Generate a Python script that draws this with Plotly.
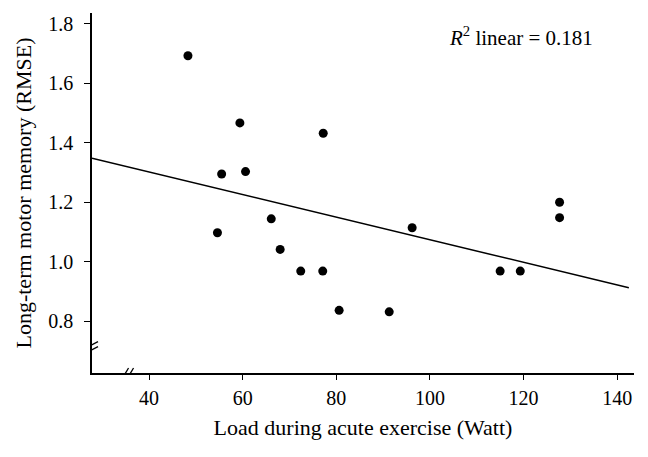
import plotly.graph_objects as go

load_watt = [48.3, 59.4, 55.5, 60.6, 66.1, 77.2, 54.6, 68.0, 72.4, 77.1,
             80.6, 91.3, 96.2, 115.0, 119.3, 127.7, 127.7]
rmse = [1.693, 1.467, 1.295, 1.303, 1.144, 1.432, 1.097, 1.041, 0.968, 0.968,
        0.836, 0.831, 1.114, 0.968, 0.968, 1.200, 1.148]

fit_x = [27.8, 142.5]
fit_y = [1.348, 0.912]

x_ticks = [40, 60, 80, 100, 120, 140]
y_ticks = [0.8, 1.0, 1.2, 1.4, 1.6, 1.8]
y_tick_text = ["0.8", "1.0", "1.2", "1.4", "1.6", "1.8"]

FONT = "Liberation Serif"

# page body has an 8px margin, so the figure is drawn 8px smaller
W, H = 640, 449
ML, MR, MT, MB = 84, 14, 5, 84

fig = go.Figure()
fig.add_trace(go.Scatter(x=fit_x, y=fit_y, mode="lines",
                         line=dict(color="black", width=1.5), showlegend=False,
                         hoverinfo="skip"))
fig.add_trace(go.Scatter(x=load_watt, y=rmse, mode="markers",
                         marker=dict(color="black", size=9), showlegend=False))

# axis break marks
shapes = []
for dx in (-2.5, 2.5):
    shapes.append(dict(type="line", xref="x", yref="y", xsizemode="pixel", ysizemode="pixel",
                       xanchor=35.5, yanchor=0.625,
                       x0=dx - 3, y0=-5, x1=dx + 3, y1=5,
                       line=dict(color="black", width=1.3)))
for dy in (-2.5, 2.5):
    shapes.append(dict(type="line", xref="x", yref="y", xsizemode="pixel", ysizemode="pixel",
                       xanchor=27.8, yanchor=0.712,
                       x0=-6, y0=dy - 3, x1=6, y1=dy + 3,
                       line=dict(color="black", width=1.3)))

pw = W - ML - MR
ph = H - MT - MB

fig.update_layout(
    width=W, height=H,
    margin=dict(l=ML, r=MR, t=MT, b=MB),
    paper_bgcolor="white", plot_bgcolor="white",
    font=dict(family=FONT, size=20, color="black"),
    shapes=shapes,
    xaxis=dict(range=[27.8, 143.6], tickvals=x_ticks, showgrid=False, zeroline=False,
               showline=True, linecolor="black", linewidth=1.5,
               ticks="outside", ticklen=5, tickwidth=1.3, tickcolor="black",
               ticklabelstandoff=1,
               tickfont=dict(family=FONT, size=20),
               title=dict(text="Load during acute exercise (Watt)", standoff=12,
                          font=dict(family=FONT, size=22))),
    yaxis=dict(range=[0.625, 1.837], tickvals=y_ticks, ticktext=y_tick_text,
               showgrid=False, zeroline=False,
               showline=True, linecolor="black", linewidth=1.5,
               ticks="outside", ticklen=6, tickwidth=1.3, tickcolor="black",
               ticklabelstandoff=7,
               tickfont=dict(family=FONT, size=20),
               title=dict(text="Long-term motor memory (RMSE)", standoff=11,
                          font=dict(family=FONT, size=22))),
    annotations=[dict(text="<i>R</i><sup>2</sup> linear = 0.181", xref="paper", yref="paper",
                      x=(513 - ML) / pw, y=1 - (29 - MT) / ph,
                      xanchor="center", yanchor="middle", showarrow=False,
                      font=dict(family=FONT, size=21))],
)

fig.write_html("out.html")
